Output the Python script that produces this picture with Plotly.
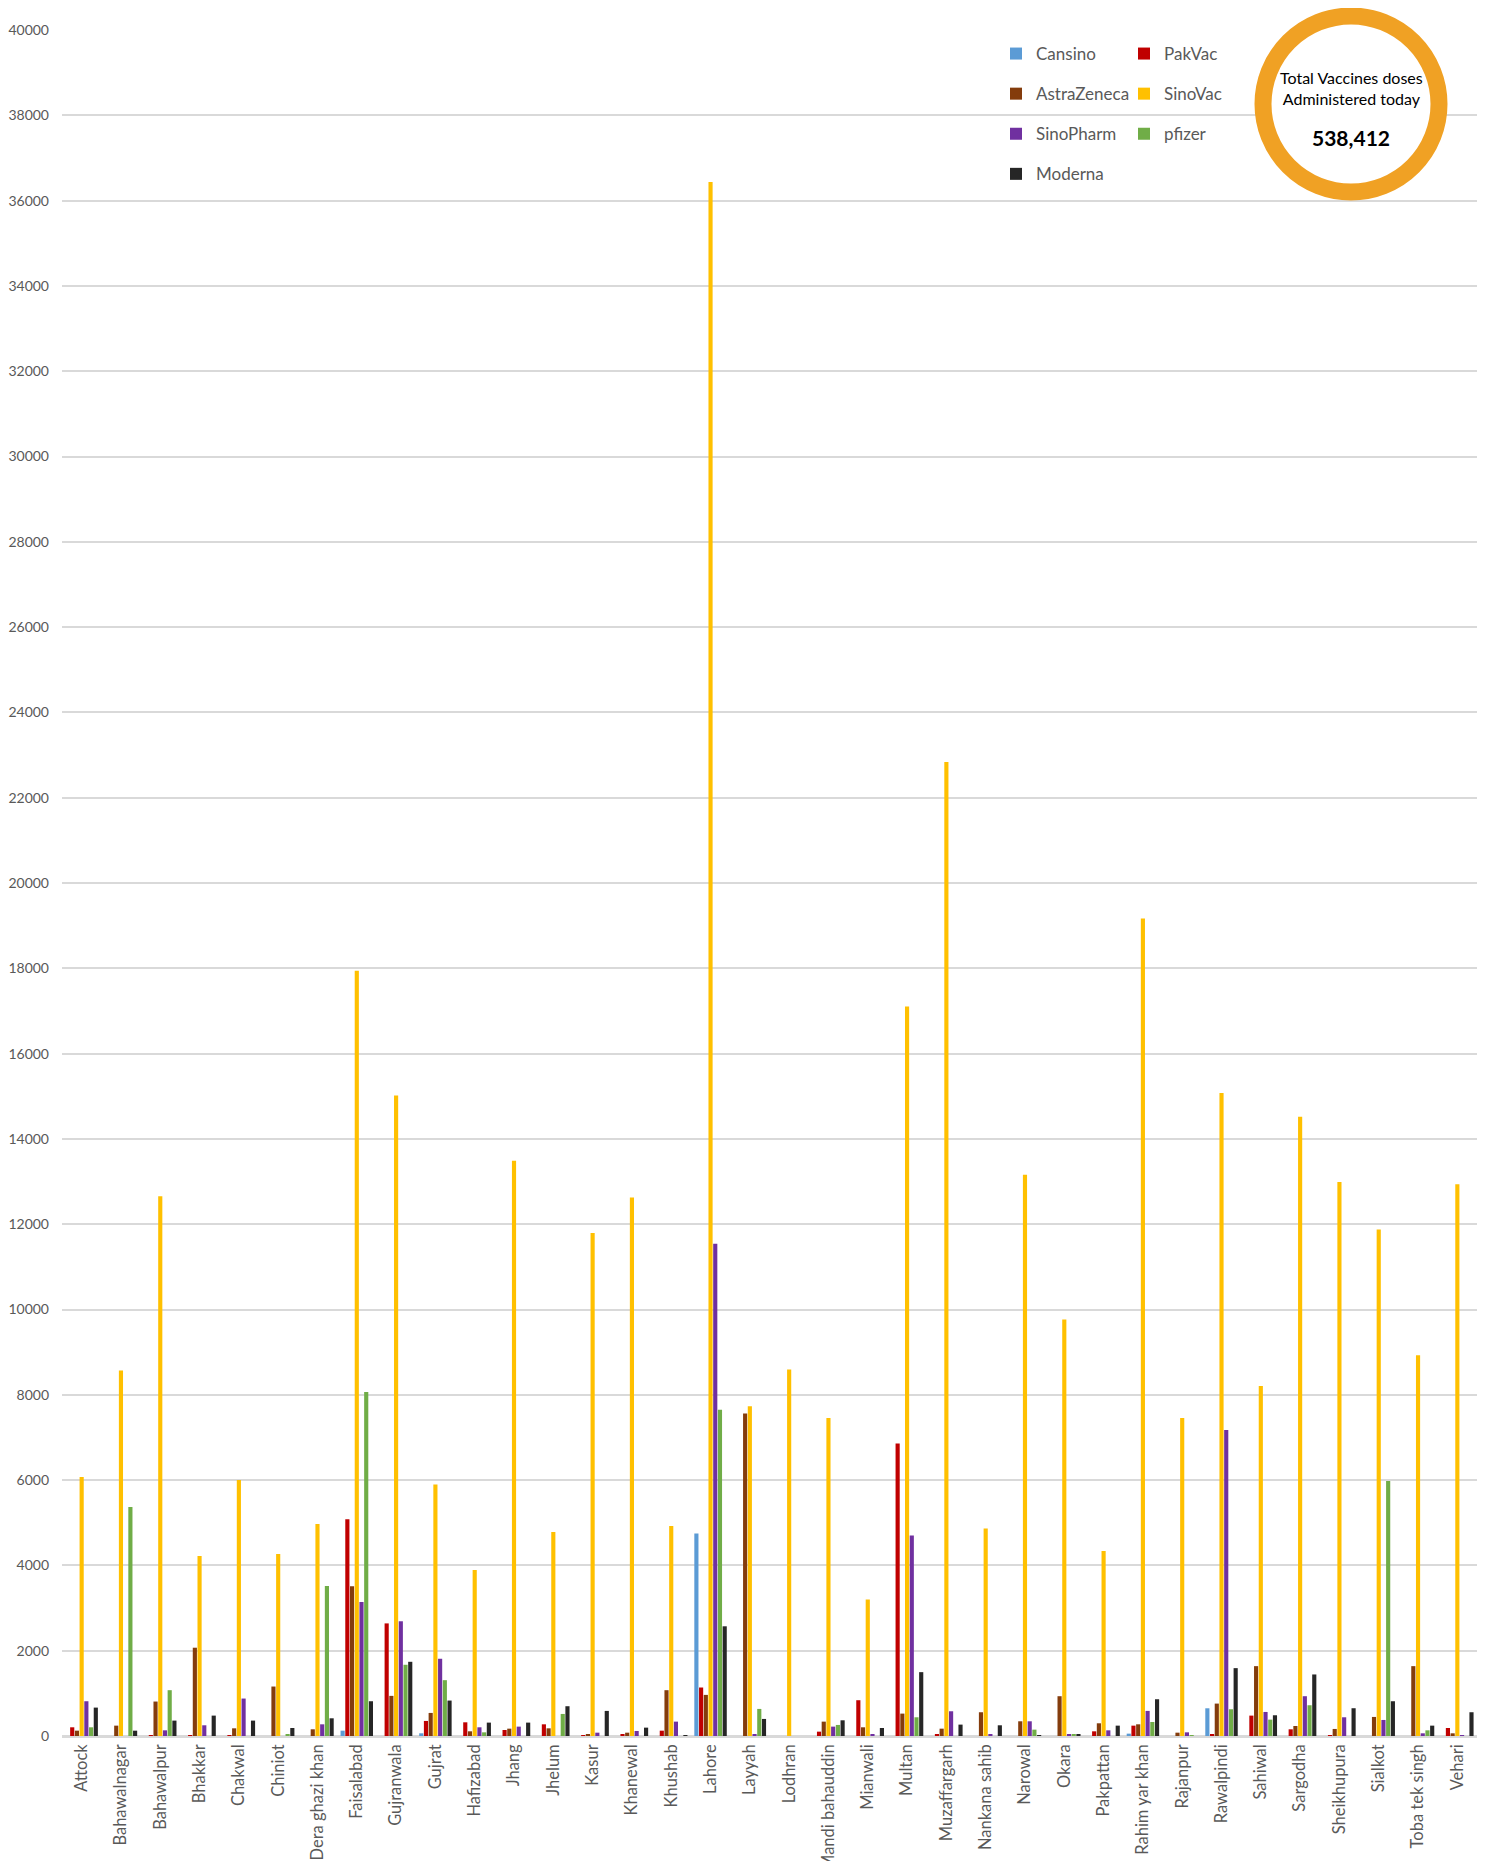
import plotly.graph_objects as go

districts = ["Attock","Bahawalnagar","Bahawalpur","Bhakkar","Chakwal","Chiniot","Dera ghazi khan",
             "Faisalabad","Gujranwala","Gujrat","Hafizabad","Jhang","Jhelum","Kasur","Khanewal",
             "Khushab","Lahore","Layyah","Lodhran","Mandi bahauddin","Mianwali","Multan",
             "Muzaffargarh","Nankana sahib","Narowal","Okara","Pakpattan","Rahim yar khan",
             "Rajanpur","Rawalpindi","Sahiwal","Sargodha","Sheikhupura","Sialkot","Toba tek singh","Vehari"]

cansino = [0,0,0,0,0,0,0,125,0,63,0,0,0,0,0,0,4750,0,0,0,0,0,0,0,0,0,0,55,0,650,0,0,0,0,0,0]
pakvac = [204,0,10,10,10,0,0,5080,2640,353,321,141,274,15,31,125,1137,0,0,102,839,6860,40,0,0,0,110,243,0,47,478,157,10,0,0,188]
astrazeneca = [125,243,808,2070,180,1160,157,3510,941,541,110,172,180,45,78,1074,964,7560,0,337,204,525,172,557,345,933,298,274,78,760,1638,235,165,447,1638,63]
sinovac = [6070,8567,12656,4219,6000,4266,4969,17941,15020,5897,3894,13490,4784,11794,12628,4923,36439,7733,8595,7455,3199,17107,22837,4868,13157,9763,4339,19165,7455,15076,8206,14520,12990,11877,8929,12934]
sinopharm = [815,0,133,251,878,0,274,3144,2690,1811,204,220,0,78,118,337,11544,40,0,220,47,4701,580,24,345,40,133,588,86,7177,564,933,439,376,63,10]
pfizer = [204,5367,1074,0,0,40,3516,8067,1670,1309,86,0,517,0,0,0,7650,635,0,259,0,439,0,0,149,47,0,329,10,627,384,721,0,5981,133,0]
moderna = [666,125,361,478,361,188,415,815,1740,831,314,314,698,588,196,15,2572,400,0,368,188,1497,267,251,15,47,243,862,0,1591,486,1443,651,815,243,557]

total_label = "538,412"

series = [
    ("Cansino", cansino, "#5B9BD5", "legend"),
    ("PakVac", pakvac, "#C00000", "legend2"),
    ("AstraZeneca", astrazeneca, "#843C0C", "legend"),
    ("SinoVac", sinovac, "#FFC000", "legend2"),
    ("SinoPharm", sinopharm, "#7030A0", "legend"),
    ("pfizer", pfizer, "#70AD47", "legend2"),
    ("Moderna", moderna, "#262626", "legend"),
]

FONT = "Lato, 'Liberation Sans', sans-serif"
GRAY = "#595959"

fig = go.Figure()
for i, (name, vals, color, lg) in enumerate(series):
    fig.add_trace(go.Bar(
        x=districts, y=vals, name=name, marker_color=color,
        marker_line_width=0, legend=lg, legendgroup=name,
    ))

OFF = 8  # page body margin
W, H = 1490 - OFF, 1861 - OFF
# plot area in screen pixels: x 62..1477, y 30..1736
L = 62 - OFF
T = 30 - OFF
R = (OFF + W) - 1477
B = (OFF + H) - 1736
pw, ph = W - L - R, H - T - B

def px_x(x):
    return (x - OFF - L) / pw

def px_y(y):
    return (OFF + H - B - y) / ph

legend_common = dict(
    font=dict(family=FONT, size=17, color=GRAY),
    bgcolor="rgba(0,0,0,0)", tracegroupgap=15, traceorder="grouped",
    xanchor="left", yanchor="top", itemwidth=30,
)

fig.update_layout(
    width=W, height=H,
    margin=dict(l=L, r=R, t=T, b=B, autoexpand=False),
    paper_bgcolor="white", plot_bgcolor="white",
    barmode="group", bargap=0.16, bargroupgap=0.12,
    font=dict(family=FONT, color=GRAY),
    showlegend=True,
    legend=dict(x=px_x(996), y=px_y(36), **legend_common),
    legend2=dict(x=px_x(1124), y=px_y(36), **legend_common),
    xaxis=dict(
        tickangle=-90, tickfont=dict(family=FONT, size=16.5, color=GRAY),
        showgrid=False, showline=True, linecolor="#D9D9D9", linewidth=1.5,
        ticks="", automargin=False, range=[-0.5, len(districts) - 0.5],
    ),
    yaxis=dict(
        range=[0, 40000], dtick=2000, tickformat="d",
        tickfont=dict(family=FONT, size=14, color=GRAY),
        showgrid=True, gridcolor="#D9D9D9", gridwidth=1.5,
        zeroline=True, zerolinecolor="#D9D9D9", zerolinewidth=1.5,
        showline=False, ticks="", automargin=False, ticklabelstandoff=12,
    ),
)

cx, cy = px_x(1351), px_y(104)
r = 88
fig.add_shape(
    type="circle", xref="paper", yref="paper",
    xsizemode="pixel", ysizemode="pixel", xanchor=cx, yanchor=cy,
    x0=-r, x1=r, y0=-r, y1=r,
    line=dict(color="#F0A124", width=17), fillcolor="white",
)
fig.add_annotation(
    xref="paper", yref="paper", x=cx, y=px_y(88), xanchor="center", yanchor="middle",
    text="Total Vaccines doses<br>Administered today", showarrow=False,
    font=dict(family=FONT, size=16, color="#000000"),
)
fig.add_annotation(
    xref="paper", yref="paper", x=cx, y=px_y(137), xanchor="center", yanchor="middle",
    text="<b>" + total_label + "</b>", showarrow=False,
    font=dict(family=FONT, size=21, color="#000000"),
)

fig.write_html("out.html")
